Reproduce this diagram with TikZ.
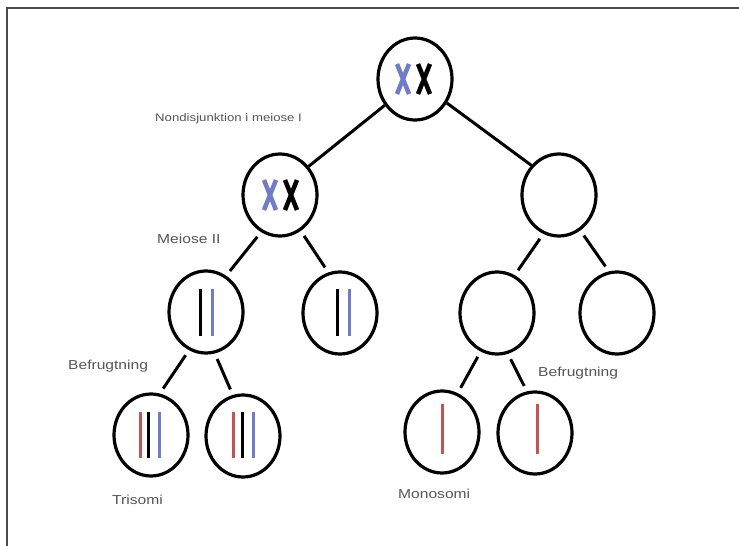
\documentclass[tikz,border=0pt]{standalone}
\usepackage{fontspec}
\setmainfont{Liberation Sans}[FakeStretch=1.2]
\usetikzlibrary{shapes.geometric}
\definecolor{chromblue}{RGB}{112,124,200}
\definecolor{chromred}{RGB}{196,84,84}
\definecolor{labelgray}{RGB}{85,85,85}
\tikzset{
  cell/.style={ellipse,draw,line width=3.2pt,inner sep=0pt,minimum width=74pt,minimum height=82pt},
  link/.style={line width=3pt},
  gap/.style={link,shorten <=6pt,shorten >=6pt},
  chromx/.style={line width=4.5pt},
  chromi/.style={line width=3pt},
  lbl/.style={anchor=west,text=labelgray,inner sep=0pt,font=\fontsize{13}{13}\selectfont}
}
\begin{document}
\begin{tikzpicture}[x=1pt,y=-1pt]
\useasboundingbox (0,0) rectangle (739,546);
\draw[line width=1.5pt,black!70] (7,546) -- (7,8) -- (739,8);
% cells
\node[cell](top)at(415,79){};
\node[cell](nl)at(280,195){};
\node[cell](nr)at(559,195){};
\node[cell](ml1)at(206,312){};
\node[cell](ml2)at(340,313){};
\node[cell](mr1)at(497,313){};
\node[cell](mr2)at(617,313){};
\node[cell](tl1)at(151,435){};
\node[cell](tl2)at(243,436){};
\node[cell](tr1)at(442,432){};
\node[cell](tr2)at(535,433){};
% chromosomes
\foreach \x/\y/\c in {403/79/chromblue,424/79/black,270/195/chromblue,291/195/black}
  \draw[chromx,\c] (\x-6,\y-15) -- (\x+6,\y+15) (\x+6,\y-15) -- (\x-6,\y+15);
\foreach \x/\c in {200/black,212/chromblue,337/black,349/chromblue}
  \draw[chromi,\c] (\x,289) -- (\x,336);
\foreach \x/\c in {140/chromred,148/black,159/chromblue,233/chromred,242/black,253/chromblue}
  \draw[chromi,\c] (\x,412) -- (\x,458);
\foreach \x in {442,537}
  \draw[chromi,chromred] (\x,404) -- (\x,454);
% links
\draw[link] (top.221) -- (nl.45);
\draw[link] (top.323) -- (nr.133);
\draw[gap] (nl.243) -- (ml1.61);
\draw[gap] (nl.300) -- (ml2.106);
\draw[gap] (nr.248) -- (mr1.65);
\draw[gap] (nr.301) -- (mr2.101);
\draw[gap] (ml1.246) -- (tl1.78);
\draw[gap] (ml1.282) -- (tl2.104);
\draw[gap] (mr1.247) -- (tr1.68);
\draw[gap] (mr1.285) -- (tr2.101);
% labels
\node[lbl,font=\fontsize{11}{11}\selectfont](nd)at(155,119){Nondisjunktion i meiose I};
\node[lbl](m2)at(157,239){Meiose II};
\node[lbl](bl)at(68,366){Befrugtning};
\node[lbl](br)at(538,373){Befrugtning};
\node[lbl](tri)at(112,500){Trisomi};
\node[lbl](mono)at(398,494){Monosomi};
\end{tikzpicture}
\end{document}
